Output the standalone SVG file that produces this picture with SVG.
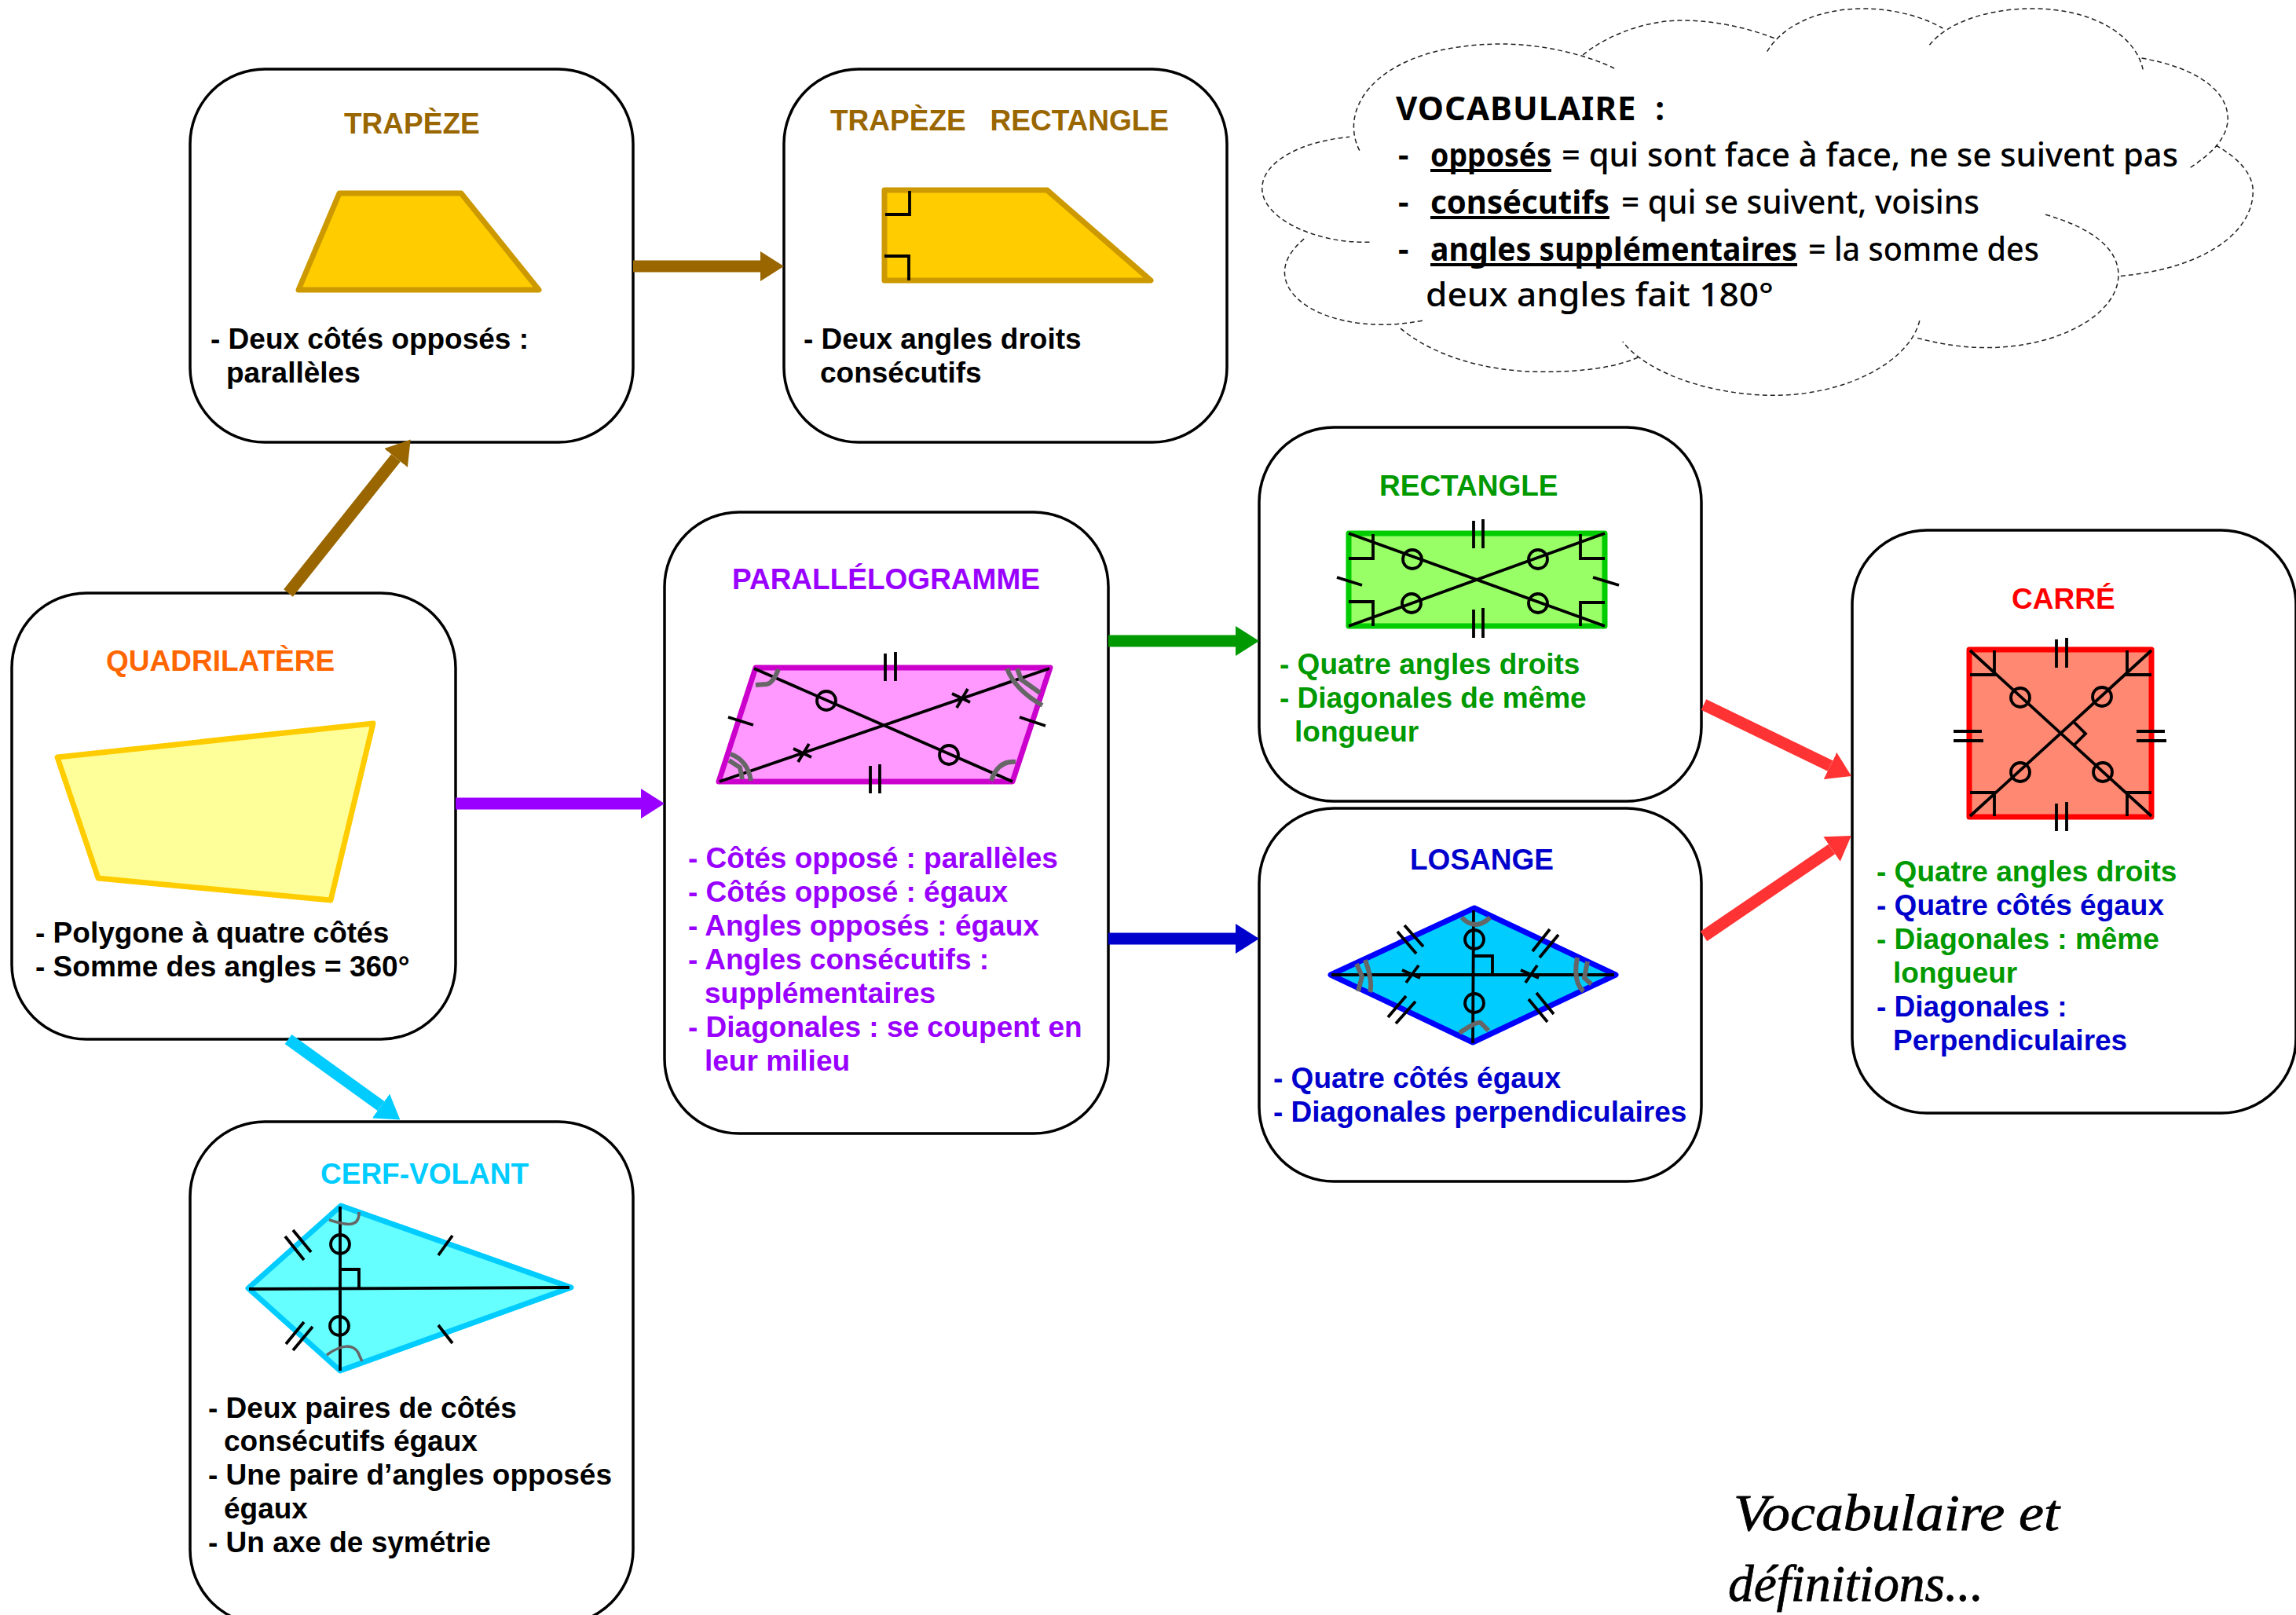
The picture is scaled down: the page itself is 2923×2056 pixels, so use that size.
<svg xmlns="http://www.w3.org/2000/svg" width="2923" height="2056" viewBox="0 0 2923 2056">
<style>
text{font-family:"Liberation Sans",Arial,sans-serif;font-weight:700;font-size:37px}
.box{fill:#fff;stroke:#000;stroke-width:3.5}
.shape{stroke-width:7;stroke-linejoin:round}
.ink{fill:none;stroke:#000;stroke-width:3.8}
.gray{fill:none;stroke:#666;stroke-width:6}
.gray3{fill:none;stroke:#666;stroke-width:3.5}
.conn{fill:none;stroke-width:15}
.cloud{fill:none;stroke:#222;stroke-width:1.5;stroke-dasharray:6 4;vector-effect:non-scaling-stroke}
.voc{font-family:"Noto Sans",sans-serif;font-weight:500;font-size:42px;fill:#000}
.vocb{font-family:"Noto Sans",sans-serif;font-weight:700;font-size:42px;fill:#000}
.ul{stroke:#000;stroke-width:4}
.script{font-family:"Liberation Serif",serif;font-style:italic;font-weight:400;font-size:66px;fill:#000;stroke:#000;stroke-width:.8}
.k{fill:#000}.br{fill:#996600}.pu{fill:#9900FF}.gr{fill:#009900}.bl{fill:#0000CC}.re{fill:#FF0000}.cy{fill:#00CCFF}.or{fill:#FF6600}
</style>
<defs>
<marker id="hBr" markerUnits="userSpaceOnUse" markerWidth="30" markerHeight="38" refX="0" refY="19" orient="auto"><path d="M0 0L30 19L0 38z" fill="#996600"/></marker>
<marker id="hPu" markerUnits="userSpaceOnUse" markerWidth="30" markerHeight="38" refX="0" refY="19" orient="auto"><path d="M0 0L30 19L0 38z" fill="#9900FF"/></marker>
<marker id="hGr" markerUnits="userSpaceOnUse" markerWidth="30" markerHeight="38" refX="0" refY="19" orient="auto"><path d="M0 0L30 19L0 38z" fill="#009900"/></marker>
<marker id="hBl" markerUnits="userSpaceOnUse" markerWidth="30" markerHeight="38" refX="0" refY="19" orient="auto"><path d="M0 0L30 19L0 38z" fill="#0000CC"/></marker>
<marker id="hRe" markerUnits="userSpaceOnUse" markerWidth="30" markerHeight="38" refX="0" refY="19" orient="auto"><path d="M0 0L30 19L0 38z" fill="#FF3333"/></marker>
<marker id="hCy" markerUnits="userSpaceOnUse" markerWidth="30" markerHeight="38" refX="0" refY="19" orient="auto"><path d="M0 0L30 19L0 38z" fill="#00CCFF"/></marker>
</defs>
<rect width="2923" height="2056" fill="#fff"/>

<g id="trapeze">
<rect class="box" x="242" y="88" width="564" height="475" rx="95"/>
<text class="br" x="438" y="170">TRAPÈZE</text>
<path class="shape" fill="#FFCC00" stroke="#CC9900" d="M432 246H587L686 369H380z"/>
<text class="k" x="268" y="444">- Deux côtés opposés :</text>
<text class="k" x="288" y="487">parallèles</text>
</g>

<g id="trapeze-rectangle">
<rect class="box" x="998" y="88" width="564" height="475" rx="95"/>
<text class="br" x="1057" y="166" xml:space="preserve">TRAPÈZE   RECTANGLE</text>
<path class="shape" fill="#FFCC00" stroke="#CC9900" d="M1126 242H1333L1465 357H1126z"/>
<path class="ink" d="M1158 243V273H1127M1126 326H1157V357"/>
<text class="k" x="1023" y="444">- Deux angles droits</text>
<text class="k" x="1044" y="487">consécutifs</text>
</g>

<g id="quadrilatere">
<rect class="box" x="15" y="755" width="565" height="568" rx="95"/>
<text class="or" x="135" y="854">QUADRILATÈRE</text>
<path class="shape" fill="#FFFF99" stroke="#FFCC00" d="M73 964L475 921L421 1146L125 1118z"/>
<text class="k" x="45" y="1200">- Polygone à quatre côtés</text>
<text class="k" x="45" y="1243">- Somme des angles = 360°</text>
</g>

<g id="parallelogramme">
<rect class="box" x="846" y="652" width="565" height="791" rx="95"/>
<text class="pu" x="932" y="750">PARALLÉLOGRAMME</text>
<path class="shape" fill="#FF99FF" stroke="#CC00CC" d="M962 850H1337L1289 995H915z"/>
<path class="ink" d="M960 851L1289 995M1336 851L916 995M1127 832V867M1140 830V867M1108 975V1010M1120 973V1010M927 913L959 923M1298 913L1331 924M1010 953L1033 964M1030 947L1016 970M1212 883L1235 894M1232 877L1218 901"/>
<circle class="ink" cx="1052" cy="892" r="12"/><circle class="ink" cx="1208" cy="961" r="12"/>
<path class="gray" d="M962 872L976 871Q984 870 991 852M1282 851Q1292 878 1327 898M1295 851L1300 865L1324 882M930 960Q952 968 956 994M928 968L942 977L945 992M1262 994Q1270 968 1293 970"/>
<g class="pu">
<text x="876" y="1105">- Côtés opposé : parallèles</text>
<text x="876" y="1148">- Côtés opposé : égaux</text>
<text x="876" y="1191">- Angles opposés : égaux</text>
<text x="876" y="1234">- Angles consécutifs :</text>
<text x="897" y="1277">supplémentaires</text>
<text x="876" y="1320">- Diagonales : se coupent en</text>
<text x="897" y="1363">leur milieu</text>
</g>
</g>

<g id="rectangle">
<rect class="box" x="1603" y="544" width="563" height="476" rx="95"/>
<text class="gr" x="1756" y="631">RECTANGLE</text>
<rect class="shape" x="1717" y="679" width="326" height="118" fill="#99FF66" stroke="#00CC00"/>
<path class="ink" d="M1717 679L2043 797M1717 797L2043 679M1748 680V711H1717M2012 680V711H2043M1717 766H1748V797M2043 767H2012V797M1876 663V698M1888 661V698M1876 776V812M1888 774V812M1702 735L1734 745M2028 735L2061 745"/>
<circle class="ink" cx="1798" cy="712" r="12"/><circle class="ink" cx="1958" cy="712" r="12"/><circle class="ink" cx="1797" cy="768" r="12"/><circle class="ink" cx="1958" cy="768" r="12"/>
<g class="gr">
<text x="1629" y="858">- Quatre angles droits</text>
<text x="1629" y="901">- Diagonales de même</text>
<text x="1648" y="944">longueur</text>
</g>
</g>

<g id="losange">
<rect class="box" x="1603" y="1029" width="563" height="475" rx="95"/>
<text class="bl" x="1795" y="1107">LOSANGE</text>
<path class="shape" fill="#00CCFF" stroke="#0000FF" d="M1877 1156L2057 1241L1875 1327L1694 1241z"/>
<path class="ink" d="M1695 1241H2055M1876 1159L1875 1328M1877 1217H1900V1240M1785 1235L1808 1245M1806 1229L1790 1251M1936 1235L1959 1245M1957 1229L1942 1251M1788 1178L1812 1205M1779 1186L1803 1214M1973 1183L1951 1211M1984 1190L1960 1219M1790 1268L1767 1295M1802 1275L1777 1303M1956 1264L1978 1291M1946 1272L1970 1301"/>
<circle class="ink" cx="1877" cy="1196" r="12"/><circle class="ink" cx="1877" cy="1277" r="12"/>
<path class="gray" d="M1861 1168Q1878 1186 1897 1168M1858 1315Q1880 1300 1885 1302L1895 1312M1738 1222Q1748 1250 1744 1263M1727 1227L1734 1243L1729 1262M2008 1219Q2002 1250 2016 1262M2021 1224L2017 1245L2026 1253"/>
<g class="bl">
<text x="1621" y="1385">- Quatre côtés égaux</text>
<text x="1621" y="1428">- Diagonales perpendiculaires</text>
</g>
</g>

<g id="carre">
<rect class="box" x="2358" y="675" width="565" height="742" rx="95"/>
<text class="re" x="2561" y="775">CARRÉ</text>
<rect class="shape" x="2507" y="827" width="232" height="213" fill="#FF8873" stroke="#FF0000"/>
<path class="ink" d="M2508 828L2739 1039M2739 828L2508 1039M2539 828V859H2508M2708 828V859H2739M2508 1009H2539V1039M2739 1009H2708V1039M2639 918L2655 934L2640 949M2618 814V850M2631 812V850M2618 1023V1058M2631 1021V1058M2487 931H2523M2487 943H2525M2720 931H2756M2720 943H2758"/>
<circle class="ink" cx="2572" cy="888" r="12"/><circle class="ink" cx="2676" cy="887" r="12"/><circle class="ink" cx="2572" cy="983" r="12"/><circle class="ink" cx="2677" cy="983" r="12"/>
<text class="gr" x="2389" y="1122">- Quatre angles droits</text>
<text class="bl" x="2389" y="1165">- Quatre côtés égaux</text>
<text class="gr" x="2389" y="1208">- Diagonales : même</text>
<text class="gr" x="2410" y="1251">longueur</text>
<text class="bl" x="2389" y="1294">- Diagonales :</text>
<text class="bl" x="2410" y="1337">Perpendiculaires</text>
</g>

<g id="cerf-volant">
<rect class="box" x="242" y="1428" width="564" height="640" rx="95"/>
<text class="cy" x="408" y="1507">CERF-VOLANT</text>
<path class="shape" fill="#66FFFF" stroke="#00CCFF" d="M434 1535L727 1639L433 1745L316 1640z"/>
<path class="ink" d="M317 1641L725 1639M433 1536V1745M434 1616H457V1639M373 1566L396 1594M363 1574L387 1604M387 1683L364 1711M398 1689L373 1719M576 1573L558 1598M558 1687L576 1710"/>
<circle class="ink" cx="433" cy="1584" r="12"/><circle class="ink" cx="432" cy="1688" r="12"/>
<path class="gray3" d="M419 1553C435 1558 458 1566 457 1543M416 1725C436 1710 450 1712 456 1722C458 1727 460 1731 461 1733"/>
<text class="k" x="265" y="1805">- Deux paires de côtés</text>
<text class="k" x="285" y="1847">consécutifs égaux</text>
<text class="k" x="265" y="1890">- Une paire d’angles opposés</text>
<text class="k" x="285" y="1933">égaux</text>
<text class="k" x="265" y="1976">- Un axe de symétrie</text>
</g>

<g id="connectors">
<path class="conn" stroke="#996600" marker-end="url(#hBr)" d="M806 339H968"/>
<path class="conn" stroke="#996600" marker-end="url(#hBr)" d="M367 755L504 583"/>
<path class="conn" stroke="#9900FF" marker-end="url(#hPu)" d="M580 1023H816"/>
<path class="conn" stroke="#00CCFF" marker-end="url(#hCy)" d="M367 1323L485 1408"/>
<path class="conn" stroke="#009900" marker-end="url(#hGr)" d="M1411 816H1573"/>
<path class="conn" stroke="#0000CC" marker-end="url(#hBl)" d="M1411 1195H1573"/>
<path class="conn" stroke="#FF3333" marker-end="url(#hRe)" d="M2169 897L2330 975"/>
<path class="conn" stroke="#FF3333" marker-end="url(#hRe)" d="M2169 1192L2332 1081"/>
</g>

<g id="vocabulaire">
<g transform="translate(1600 0) scale(.8438 .3333)">
<path class="cloud" d="M155 575C120 400 190 168 370 168C430 168 500 210 540 262M492 210C530 130 590 78 640 78C700 78 750 115 785 150M770 197C790 110 840 33 915 33C965 33 1010 70 1035 108M1015 172C1040 90 1100 33 1170 33C1260 33 1325 130 1337 265M1335 222C1420 260 1467 350 1465 460C1463 530 1440 590 1405 645M1447 555C1485 610 1503 670 1503 730C1503 900 1420 1030 1300 1055M1190 820C1260 870 1300 950 1300 1050C1300 1200 1210 1328 1100 1328C1060 1328 1025 1310 995 1290M1000 1225C985 1380 890 1510 780 1510C690 1510 590 1430 552 1305M575 1365C540 1405 490 1420 430 1420C340 1420 260 1350 215 1250M250 1225C225 1235 210 1240 190 1240C105 1240 42 1150 42 1040C42 990 55 945 75 905M170 925C85 930 8 830 8 720C8 620 65 540 140 523"/>
</g>
<text class="vocb" x="1777" y="153" textLength="342" lengthAdjust="spacing" xml:space="preserve">VOCABULAIRE  :</text>
<text class="vocb" x="1780" y="212">-</text>
<text class="vocb" x="1821" y="212" textLength="154" lengthAdjust="spacingAndGlyphs">opposés</text>
<path class="ul" d="M1821 217H1975"/>
<text class="voc" x="1988" y="212" textLength="785" lengthAdjust="spacingAndGlyphs">= qui sont face à face, ne se suivent pas</text>
<text class="vocb" x="1780" y="272">-</text>
<text class="vocb" x="1821" y="272" textLength="228" lengthAdjust="spacingAndGlyphs">consécutifs</text>
<path class="ul" d="M1821 277H2049"/>
<text class="voc" x="2064" y="272" textLength="456" lengthAdjust="spacingAndGlyphs">= qui se suivent, voisins</text>
<text class="vocb" x="1780" y="332">-</text>
<text class="vocb" x="1821" y="332" textLength="467" lengthAdjust="spacingAndGlyphs">angles supplémentaires</text>
<path class="ul" d="M1821 337H2288"/>
<text class="voc" x="2302" y="332" textLength="294" lengthAdjust="spacingAndGlyphs">= la somme des</text>
<text class="voc" x="1815" y="390" textLength="443" lengthAdjust="spacingAndGlyphs">deux angles fait 180°</text>
</g>

<g id="titre">
<text class="script" x="2207" y="1948" textLength="415" lengthAdjust="spacingAndGlyphs">Vocabulaire et</text>
<text class="script" x="2200" y="2038" textLength="325" lengthAdjust="spacingAndGlyphs">définitions...</text>
</g>
</svg>
